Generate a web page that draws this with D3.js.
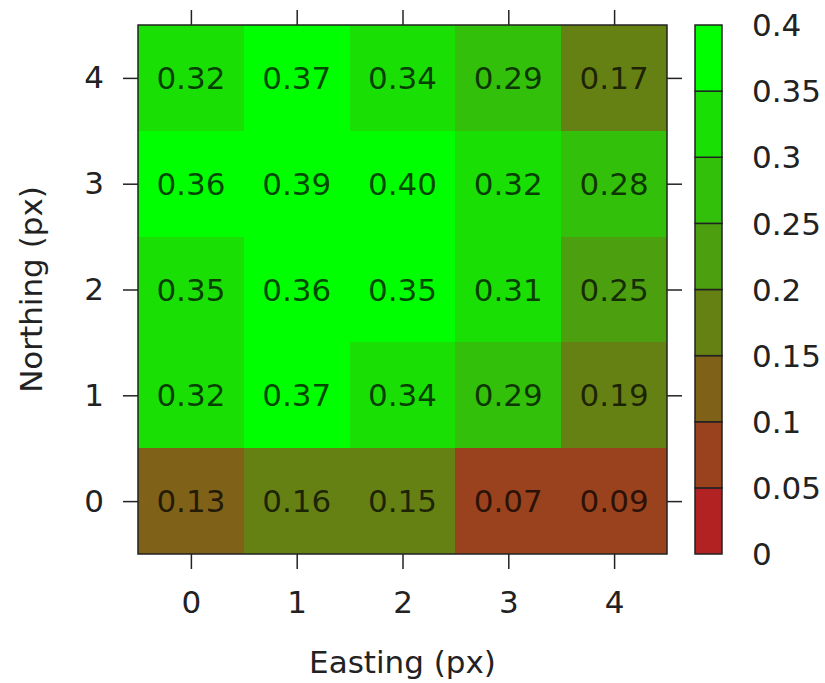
<!DOCTYPE html>
<html>
<head>
<meta charset="utf-8">
<script src="https://cdn.jsdelivr.net/npm/d3@7"></script>
<style>
  body { margin: 0; background: #fff; }
  svg { display: block; font-family: "DejaVu Sans", sans-serif; }
</style>
</head>
<body>
<div id="chart"></div>
<script>
// Grid coordinates (px)
const eastings = [0, 1, 2, 3, 4];
const northings = [0, 1, 2, 3, 4];

// One row per northing, values along easting
const row0 = [0.13, 0.16, 0.15, 0.07, 0.09];
const row1 = [0.32, 0.37, 0.34, 0.29, 0.19];
const row2 = [0.349, 0.36, 0.351, 0.31, 0.249];
const row3 = [0.36, 0.39, 0.40, 0.32, 0.28];
const row4 = [0.32, 0.37, 0.34, 0.29, 0.17];
const rows = [row0, row1, row2, row3, row4];

// Colorbar tick labels
const cbTicks = [0, 0.05, 0.1, 0.15, 0.2, 0.25, 0.3, 0.35, 0.4];
const cbLabels = ['0', '0.05', '0.1', '0.15', '0.2', '0.25', '0.3', '0.35', '0.4'];

const W = 825, H = 683;
const plot = { left: 138, right: 667, top: 25, bottom: 554 };
const bar = { left: 695, right: 722 };
const fontSize = 31;
const textColor = '#222';

const svg = d3.select('#chart').append('svg')
  .attr('width', W)
  .attr('height', H);

const x = d3.scaleLinear().domain([-0.5, 4.5]).range([plot.left, plot.right]);
const y = d3.scaleLinear().domain([-0.5, 4.5]).range([plot.bottom, plot.top]);

// discrete palette, firebrick -> green, 8 levels
const nColors = cbTicks.length - 1;
const palette = d3.range(nColors).map(i => d3.interpolateRgb('#b22222', '#00ff00')(i / (nColors - 1)));
const color = d3.scaleThreshold().domain(cbTicks.slice(1, -1)).range(palette);

const cells = [];
rows.forEach((r, j) => r.forEach((v, i) => cells.push({ e: eastings[i], n: northings[j], v })));

// Cells
svg.append('g')
  .selectAll('rect')
  .data(cells)
  .enter()
  .append('rect')
  .attr('x', d => x(d.e - 0.5))
  .attr('y', d => y(d.n + 0.5))
  .attr('width', x(1) - x(0))
  .attr('height', y(0) - y(1))
  .attr('fill', d => color(d.v))
  .attr('shape-rendering', 'crispEdges');

// Cell labels
svg.append('g')
  .selectAll('text')
  .data(cells)
  .enter()
  .append('text')
  .attr('x', d => x(d.e))
  .attr('y', d => y(d.n))
  .attr('dy', '0.36em')
  .attr('text-anchor', 'middle')
  .attr('font-size', fontSize)
  .attr('fill', '#000')
  .attr('fill-opacity', 0.72)
  .text(d => d3.format('.2f')(d.v));

// Axes (ticks outward, mirrored)
const tickLen = 15;
const styleAxis = g => {
  g.select('.domain').remove();
  g.selectAll('.tick line').attr('stroke', '#222').attr('stroke-width', 1.5);
  g.selectAll('.tick text').attr('font-size', fontSize).attr('fill', textColor)
    .attr('font-family', '"DejaVu Sans", sans-serif');
};

svg.append('g')
  .attr('transform', `translate(0,${plot.bottom})`)
  .call(d3.axisBottom(x).tickValues(eastings).tickSize(tickLen).tickPadding(22).tickFormat(d3.format('d')))
  .call(styleAxis);

svg.append('g')
  .attr('transform', `translate(0,${plot.top})`)
  .call(d3.axisTop(x).tickValues(eastings).tickSize(tickLen).tickFormat(''))
  .call(styleAxis);

svg.append('g')
  .attr('transform', `translate(${plot.left},0)`)
  .call(d3.axisLeft(y).tickValues(northings).tickSize(tickLen).tickPadding(19).tickFormat(d3.format('d')))
  .call(styleAxis);

svg.append('g')
  .attr('transform', `translate(${plot.right},0)`)
  .call(d3.axisRight(y).tickValues(northings).tickSize(tickLen).tickFormat(''))
  .call(styleAxis);

// Frame
svg.append('rect')
  .attr('x', plot.left)
  .attr('y', plot.top)
  .attr('width', plot.right - plot.left)
  .attr('height', plot.bottom - plot.top)
  .attr('fill', 'none')
  .attr('stroke', '#222')
  .attr('stroke-width', 1.5);

// Axis titles
svg.append('text')
  .attr('x', (plot.left + plot.right) / 2)
  .attr('y', 673)
  .attr('text-anchor', 'middle')
  .attr('font-size', fontSize)
  .attr('fill', textColor)
  .text('Easting (px)');

svg.append('text')
  .attr('transform', `translate(42,${(plot.top + plot.bottom) / 2}) rotate(-90)`)
  .attr('text-anchor', 'middle')
  .attr('font-size', fontSize)
  .attr('fill', textColor)
  .text('Northing (px)');

// Colorbar
const cb = d3.scaleLinear().domain([0, 0.4]).range([plot.bottom, plot.top]);
const bands = d3.range(nColors).map(i => ({ lo: cbTicks[i], hi: cbTicks[i + 1] }));

svg.append('g')
  .selectAll('rect')
  .data(bands)
  .enter()
  .append('rect')
  .attr('x', bar.left)
  .attr('y', d => cb(d.hi))
  .attr('width', bar.right - bar.left)
  .attr('height', d => cb(d.lo) - cb(d.hi))
  .attr('fill', d => color(d.lo))
  .attr('stroke', '#222')
  .attr('stroke-width', 1.5);

svg.append('g')
  .selectAll('text')
  .data(cbTicks)
  .enter()
  .append('text')
  .attr('x', 752)
  .attr('y', d => cb(d))
  .attr('dy', '0.36em')
  .attr('font-size', fontSize)
  .attr('fill', textColor)
  .text((d, i) => cbLabels[i]);
</script>
</body>
</html>
